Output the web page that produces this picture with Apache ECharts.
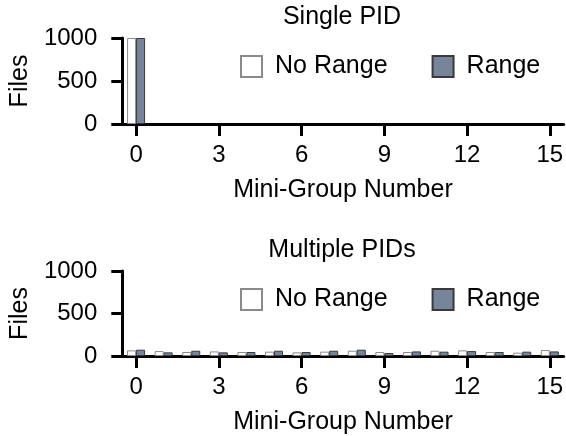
<!DOCTYPE html>
<html>
<head>
<meta charset="utf-8">
<script src="https://cdn.jsdelivr.net/npm/echarts@6/dist/echarts.min.js"></script>
<style>
  html, body { margin: 0; padding: 0; background: #fff; }
  #chart { width: 566px; height: 436px; }
</style>
</head>
<body>
<div id="chart"></div>
<script>
// 小组编号 0..15
var groups = ['0', '1', '2', '3', '4', '5', '6', '7', '8', '9', '10', '11', '12', '13', '14', '15'];

// Single PID
var singleNoRange = [1000, 0, 0, 0, 0, 0, 0, 0, 0, 0, 0, 0, 0, 0, 0, 0];
var singleRange = [1000, 0, 0, 0, 0, 0, 0, 0, 0, 0, 0, 0, 0, 0, 0, 0];

// Multiple PIDs
var multiNoRange = [66, 58, 47, 54, 47, 51, 43, 51, 62, 47, 47, 62, 66, 47, 39, 70];
var multiRange = [74, 43, 62, 43, 47, 62, 47, 62, 74, 35, 54, 51, 58, 47, 51, 54];

var titles = ['Single PID', 'Multiple PIDs'];
var yTicks = [0, 500, 1000];

var font = 'Liberation Sans, Arial, sans-serif';
var rangeColor = '#76859a';
var shift = 233; // 两个子图之间的垂直距离

// 0 值不画柱子（否则边框会露出一条线）
function noZero(arr) {
  return arr.map(function (v) { return v === 0 ? '-' : v; });
}

function xAxisOf(i) {
  return {
    type: 'category',
    gridIndex: i,
    data: groups,
    name: 'Mini-Group Number',
    nameLocation: 'middle',
    nameGap: 54,
    nameTextStyle: { fontFamily: font, fontSize: 25, color: '#000' },
    axisLine: { show: true, lineStyle: { color: '#000', width: 3 } },
    axisTick: { show: true, interval: 2, alignWithLabel: true, length: 12, lineStyle: { color: '#000', width: 3 } },
    axisLabel: { interval: 2, margin: 19, fontFamily: font, fontSize: 24, color: '#000' }
  };
}

function yAxisOf(i) {
  return {
    type: 'value',
    gridIndex: i,
    min: yTicks[0],
    max: yTicks[yTicks.length - 1],
    interval: 500,
    name: 'Files',
    nameLocation: 'middle',
    nameGap: 84,
    nameTextStyle: { fontFamily: font, fontSize: 25, color: '#000' },
    axisLine: { show: true, lineStyle: { color: '#000', width: 3 } },
    axisTick: { show: true, length: 11, lineStyle: { color: '#000', width: 3 } },
    axisLabel: {
      margin: 25, fontFamily: font, fontSize: 24, color: '#000',
      formatter: function (v) { return String(v); }
    },
    splitLine: { show: false }
  };
}

function seriesOf(i, noRange, range) {
  return [
    {
      name: 'No Range',
      type: 'bar',
      xAxisIndex: i,
      yAxisIndex: i,
      data: noZero(noRange),
      barWidth: 9,
      barGap: '0%',
      itemStyle: { color: '#fff', borderColor: '#8a8a8a', borderWidth: 1 }
    },
    {
      name: 'Range',
      type: 'bar',
      xAxisIndex: i,
      yAxisIndex: i,
      data: noZero(range),
      barWidth: 9,
      barGap: '0%',
      itemStyle: { color: rangeColor, borderColor: '#3a3a3a', borderWidth: 1 }
    }
  ];
}

function legendOf(i) {
  return {
    left: 240,
    top: 54 + i * shift,
    padding: 0,
    itemWidth: 21,
    itemHeight: 21,
    itemGap: 44,
    icon: 'rect',
    data: ['No Range', 'Range'],
    textStyle: { fontFamily: font, fontSize: 25, color: '#000', padding: [0, 0, 0, 8] }
  };
}

var chart = echarts.init(document.getElementById('chart'), null, { renderer: 'canvas' });
chart.setOption({
  animation: false,
  backgroundColor: '#fff',
  title: titles.map(function (t, i) {
    return {
      text: t,
      left: 342,
      textAlign: 'center',
      top: 5 + i * shift,
      padding: 0,
      textStyle: { fontFamily: font, fontSize: 25, fontWeight: 'normal', color: '#000' }
    };
  }),
  legend: [legendOf(0), legendOf(1)],
  grid: [
    { left: 118, right: 0, top: 38, height: 86 },
    { left: 118, right: 0, top: 38 + shift, height: 86 }
  ],
  xAxis: [xAxisOf(0), xAxisOf(1)],
  yAxis: [yAxisOf(0), yAxisOf(1)],
  series: seriesOf(0, singleNoRange, singleRange).concat(seriesOf(1, multiNoRange, multiRange))
});
</script>
</body>
</html>
